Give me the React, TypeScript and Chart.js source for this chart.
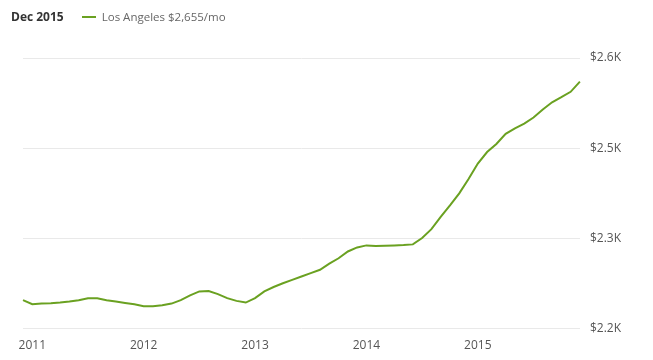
import React, { useEffect, useRef } from "react";
import { Chart, registerables } from "chart.js";

Chart.register(...registerables);

const months: string[] = [
  "Dec 2010",
  "Jan 2011", "Feb 2011", "Mar 2011", "Apr 2011", "May 2011", "Jun 2011", "Jul 2011", "Aug 2011", "Sep 2011", "Oct 2011", "Nov 2011", "Dec 2011",
  "Jan 2012", "Feb 2012", "Mar 2012", "Apr 2012", "May 2012", "Jun 2012", "Jul 2012", "Aug 2012", "Sep 2012", "Oct 2012", "Nov 2012", "Dec 2012",
  "Jan 2013", "Feb 2013", "Mar 2013", "Apr 2013", "May 2013", "Jun 2013", "Jul 2013", "Aug 2013", "Sep 2013", "Oct 2013", "Nov 2013", "Dec 2013",
  "Jan 2014", "Feb 2014", "Mar 2014", "Apr 2014", "May 2014", "Jun 2014", "Jul 2014", "Aug 2014", "Sep 2014", "Oct 2014", "Nov 2014", "Dec 2014",
  "Jan 2015", "Feb 2015", "Mar 2015", "Apr 2015", "May 2015", "Jun 2015", "Jul 2015", "Aug 2015", "Sep 2015", "Oct 2015", "Nov 2015", "Dec 2015",
];

const losAngeles: number[] = [
  2242,
  2236, 2237, 2237.5, 2238.5, 2240, 2242, 2245, 2245, 2242, 2240, 2238, 2236,
  2233, 2233, 2234.5, 2237, 2242, 2249, 2255, 2255.5, 2251, 2245, 2241, 2238.5,
  2245, 2255, 2261.5, 2267, 2272, 2277, 2282, 2287, 2296, 2304, 2314, 2320,
  2323, 2322, 2322.5, 2323, 2323.5, 2324.5, 2334, 2347, 2365, 2382, 2400, 2421,
  2444, 2461, 2473, 2488, 2496, 2503, 2512, 2524, 2534.5, 2542, 2550, 2565,
];

const yearTicks: string[] = ["2011", "2012", "2013", "2014", "2015"];
const yTickValues: number[] = [2200, 2333.33, 2466.67, 2600];

const headerDate = "Dec 2015";
const seriesName = "Los Angeles";
const seriesLabel = "$2,655/mo";

const GREEN = "#6aa121";
const FONT = "'Open Sans', sans-serif";

export default function App() {
  const ref = useRef<HTMLCanvasElement | null>(null);

  useEffect(() => {
    if (!ref.current) return;
    const chart = new Chart(ref.current, {
      type: "line",
      data: {
        labels: months,
        datasets: [
          {
            label: seriesName,
            data: losAngeles,
            borderColor: GREEN,
            borderWidth: 2,
            pointRadius: 0,
            fill: false,
            tension: 0,
          },
        ],
      },
      options: {
        responsive: false,
        animation: false,
        layout: { padding: { top: 58, left: 23, right: 22, bottom: 6 } },
        plugins: { legend: { display: false }, tooltip: { enabled: false } },
        scales: {
          x: {
            type: "category",
            offset: false,
            grid: { display: false, drawTicks: false },
            border: { display: false },
            ticks: {
              autoSkip: false,
              maxRotation: 0,
              padding: 10,
              color: "#555",
              font: { family: FONT, size: 12 },
              callback: (_v: any, i: number) => {
                const m = months[i];
                if (m && m.startsWith("Jan ")) {
                  const y = m.slice(4);
                  return yearTicks.includes(y) ? y : "";
                }
                return "";
              },
            },
          },
          y: {
            position: "right",
            min: 2200,
            max: 2600,
            afterBuildTicks: (axis: any) => {
              axis.ticks = yTickValues.map((v) => ({ value: v }));
            },
            grid: { color: "#e9e9e9", drawTicks: false, lineWidth: 1 },
            border: { display: false },
            ticks: {
              padding: 10,
              color: "#555",
              font: { family: FONT, size: 12 },
              callback: (v: any) => "$" + (Number(v) / 1000).toFixed(1) + "K",
            },
          },
        },
      },
    });
    return () => chart.destroy();
  }, []);

  return (
    <div style={{ position: "absolute", left: 0, top: 0, width: 653, height: 360, overflow: "hidden", background: "#fff", fontFamily: FONT }}>
      <canvas ref={ref} width={653} height={369} style={{ position: "absolute", left: 0, top: 0 }} />
      <div style={{ position: "absolute", left: 11, top: 9, fontSize: 11.5, lineHeight: "16px", display: "flex", alignItems: "center", whiteSpace: "nowrap" }}>
        <span style={{ fontWeight: 700, color: "#333", fontSize: 12 }}>{headerDate}</span>
        <span style={{ display: "inline-block", width: 14, height: 2, background: GREEN, marginLeft: 18, marginRight: 6 }} />
        <span style={{ color: "#666" }}>{seriesName} {seriesLabel}</span>
      </div>
    </div>
  );
}
